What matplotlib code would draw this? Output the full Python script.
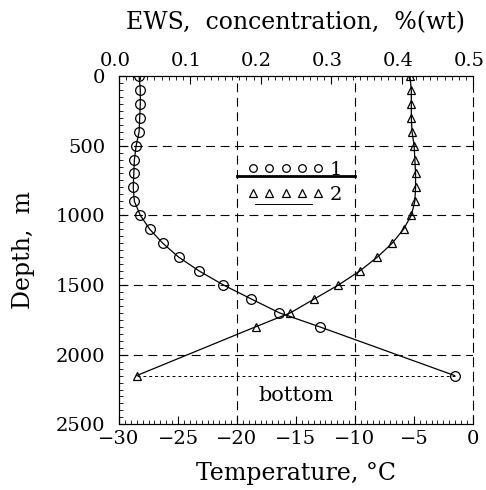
import matplotlib
matplotlib.use("Agg")
import matplotlib.pyplot as plt
import matplotlib.transforms as mtransforms
from matplotlib.ticker import MultipleLocator, FormatStrFormatter

# temperature profile (circles, bottom axis)
depth_t = [0, 100, 200, 300, 400, 500, 600, 700, 800, 900, 1000,
           1100, 1200, 1300, 1400, 1500, 1600, 1700, 1800, 2150]
temp = [-28.3, -28.2, -28.2, -28.25, -28.3, -28.55, -28.7, -28.75, -28.8, -28.7, -28.2,
        -27.4, -26.3, -24.95, -23.2, -21.15, -18.8, -16.4, -13.0, -1.55]

# EWS concentration profile (triangles, top axis)
depth_c = [0, 100, 200, 300, 400, 500, 600, 700, 800, 900, 1000,
           1100, 1200, 1300, 1400, 1500, 1600, 1700, 1800, 2150]
conc = [0.411, 0.413, 0.413, 0.413, 0.414, 0.417, 0.418, 0.419, 0.419, 0.418, 0.413,
        0.402, 0.386, 0.365, 0.340, 0.310, 0.276, 0.242, 0.193, 0.025]

bottom_depth = 2150

plt.rcParams['font.family'] = 'DejaVu Serif'
plt.rcParams['xtick.direction'] = 'in'
plt.rcParams['ytick.direction'] = 'in'

fig = plt.figure(figsize=(4.86, 4.90), dpi=100)
ax = fig.add_axes([0.245, 0.134, 0.728, 0.711])

ax.plot(temp, depth_t, 'k-', lw=0.9, marker='o', ms=7, mfc='none', mew=0.9)
ax.set_xlim(-30, 0)
ax.set_ylim(2500, 0)

# grid
for d in [500, 1000, 1500, 2000]:
    ax.axhline(d, color='k', lw=0.8, ls=(0, (8, 5)))
for t in [-20, -10]:
    ax.axvline(t, color='k', lw=0.8, ls=(0, (8, 5)))
ax.plot([temp[-1], -28.5], [bottom_depth, bottom_depth], 'k', lw=0.7, ls=(0, (3, 3)))
ax.text(-15, 2290, 'bottom', ha='center', va='center', fontsize=15)

ax.spines['right'].set_linestyle((0, (8, 5)))
ax.spines['right'].set_linewidth(0.8)

ax.xaxis.set_major_locator(MultipleLocator(5))
ax.xaxis.set_minor_locator(MultipleLocator(0.5))
ax.yaxis.set_major_locator(MultipleLocator(500))
ax.yaxis.set_minor_locator(MultipleLocator(50))
ax.tick_params(which='major', length=6, labelsize=14)
ax.tick_params(which='minor', length=3)
ax.tick_params(axis='y', right=False, pad=10)
ax.tick_params(axis='x', pad=4)
ax.set_xlabel('Temperature, °C', fontsize=17)
ax.set_ylabel('Depth,  m', fontsize=17)
ax.xaxis.set_label_coords(0.5, -0.109)
ax.yaxis.set_label_coords(-0.237, 0.5)

ax2 = ax.twiny()
ax2.plot(conc, depth_c, 'k-', lw=0.9, marker='^', ms=6, mfc='none', mew=0.9)
ax2.set_xlim(0, 0.5)
ax2.xaxis.set_major_locator(MultipleLocator(0.1))
ax2.xaxis.set_minor_locator(MultipleLocator(0.01))
ax2.xaxis.set_major_formatter(FormatStrFormatter('%.1f'))
ax2.tick_params(which='major', length=6, labelsize=14, pad=4)
ax2.tick_params(which='minor', length=3)
ax2.set_xlabel('EWS,  concentration,  %(wt)', fontsize=17)
ax2.xaxis.set_label_coords(0.5, 1.135)
ax2.spines['right'].set_visible(False)
shift = mtransforms.ScaledTranslation(-4 / 100, 0, fig.dpi_scale_trans)
for lab in ax2.get_xticklabels():
    lab.set_transform(lab.get_transform() + shift)

# legend drawn as in the original figure
h1 = plt.Line2D([], [], ls='none', marker='o', ms=5.5, mfc='none', mec='k', mew=0.9)
h2 = plt.Line2D([], [], ls='none', marker='^', ms=5.5, mfc='none', mec='k', mew=0.9)
leg = ax.legend([h1, h2], ['1', '2'], numpoints=5, frameon=False, handlelength=3.94,
                fontsize=14, loc='upper left', bbox_to_anchor=(0.313, 0.807),
                labelspacing=0.36, handletextpad=0.3, borderpad=0.4)
ax.plot([-20, -10], [716, 716], 'k-', lw=2)
ax.plot([-18.5, -13.6], [917, 917], 'k-', lw=0.7)

fig.savefig('out.png', dpi=100)
